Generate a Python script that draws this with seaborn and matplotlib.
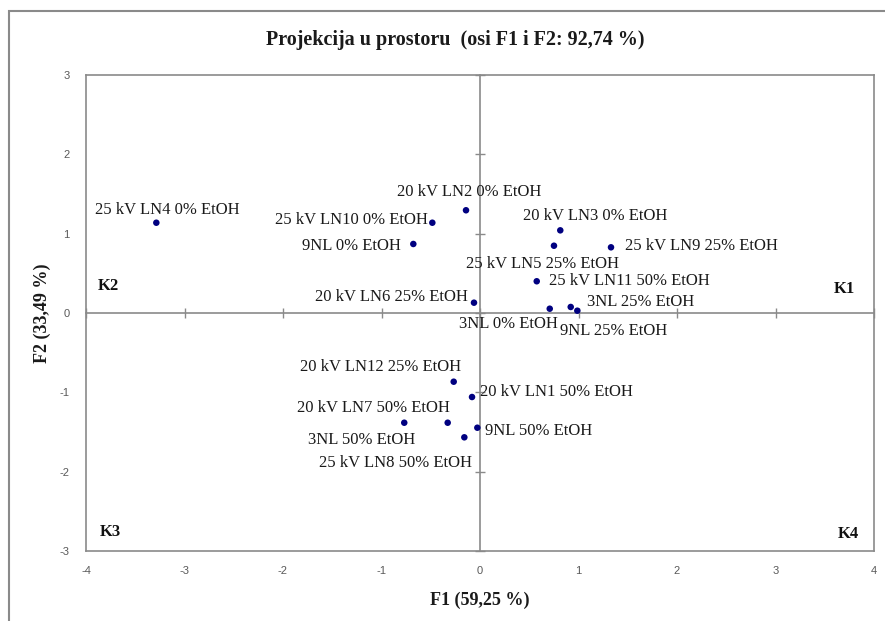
import matplotlib
matplotlib.use("Agg")
import matplotlib.pyplot as plt
import seaborn as sns
import pandas as pd
from matplotlib.patches import Rectangle

labels = [
    "25 kV LN4 0% EtOH", "25 kV LN10 0% EtOH", "20 kV LN2 0% EtOH", "9NL 0% EtOH",
    "20 kV LN6 25% EtOH", "20 kV LN3 0% EtOH", "25 kV LN5 25% EtOH", "25 kV LN9 25% EtOH",
    "25 kV LN11 50% EtOH", "3NL 0% EtOH", "3NL 25% EtOH", "9NL 25% EtOH",
    "20 kV LN12 25% EtOH", "20 kV LN1 50% EtOH", "3NL 50% EtOH", "20 kV LN7 50% EtOH",
    "9NL 50% EtOH", "25 kV LN8 50% EtOH",
]
f1 = [-3.286, -0.484, -0.142, -0.677, -0.061, 0.815, 0.751, 1.330,
      0.576, 0.708, 0.921, 0.988, -0.267, -0.081, -0.769, -0.328, -0.027, -0.159]
f2 = [1.138, 1.138, 1.295, 0.870, 0.130, 1.042, 0.848, 0.828,
      0.400, 0.054, 0.076, 0.029, -0.866, -1.059, -1.383, -1.383, -1.446, -1.567]

title = "Projekcija u prostoru  (osi F1 i F2: 92,74 %)"
xlabel = "F1 (59,25 %)"
ylabel = "F2 (33,49 %)"
ticks_x = [-4, -3, -2, -1, 0, 1, 2, 3, 4]
ticks_y = [-3, -2, -1, 0, 1, 2, 3]
quadrants = ["K1", "K2", "K3", "K4"]

# label placement (pixel offsets from point, alignment)
label_pos = [
    (11, 13, "center"), (-4, 3, "right"), (3, 18, "center"), (-12, -2, "right"),
    (-6, 6, "right"), (35, 14, "center"), (-11, -18, "center"), (14, 1, "left"),
    (12, 0, "left"), (-41, -15, "center"), (16, 5, "left"), (36, -20, "center"),
    (-73, 15, "center"), (8, 5, "left"), (-43, -17, "center"), (-74, 15, "center"),
    (8, -3, "left"), (-69, -26, "center"),
]
quad_pos = [(3.70, 0.30), (-3.77, 0.34), (-3.75, -2.76), (3.74, -2.79)]

sns.set_theme(style="white")
plt.rcParams["font.family"] = ["Liberation Serif", "DejaVu Serif"]

df = pd.DataFrame({"F1": f1, "F2": f2, "label": labels})

W, H = 885, 621
fig = plt.figure(figsize=(W / 100, H / 100), dpi=100)
pos = [86 / W, 1 - 551 / H, (874 - 86) / W, (551 - 75) / H]

frame_color = "#8a8a8a"
tick_color = "#595959"

# frame axes with tick labels on the box
axf = fig.add_axes(pos)
axf.set_xlim(-4, 4)
axf.set_ylim(-3, 3)
axf.set_xticks(ticks_x)
axf.set_yticks(ticks_y)
axf.set_xticklabels([str(t) for t in ticks_x])
axf.set_yticklabels([str(t) for t in ticks_y])
axf.tick_params(length=0, labelsize=8, labelcolor=tick_color)
axf.tick_params(axis="y", pad=12)
axf.tick_params(axis="x", pad=11)
for lab in axf.get_xticklabels() + axf.get_yticklabels():
    lab.set_family("Liberation Sans")
for s in axf.spines.values():
    s.set_color(frame_color)
    s.set_linewidth(1.2)
axf.set_xlabel(xlabel, fontsize=13, fontweight="bold", labelpad=11, color="#1a1a1a")
axf.set_ylabel(ylabel, fontsize=13, fontweight="bold", labelpad=6, color="#1a1a1a")
axf.set_facecolor("white")

# main axes with center cross
ax = fig.add_axes(pos, sharex=axf, sharey=axf)
ax.set_facecolor("none")
ax.spines["left"].set_position(("data", 0))
ax.spines["bottom"].set_position(("data", 0))
ax.spines["top"].set_visible(False)
ax.spines["right"].set_visible(False)
for k in ("left", "bottom"):
    ax.spines[k].set_color(frame_color)
    ax.spines[k].set_linewidth(1.2)
ax.tick_params(direction="inout", length=6.5, width=1.0, color=frame_color,
               labelleft=False, labelbottom=False, left=True, bottom=True)

sns.scatterplot(data=df, x="F1", y="F2", ax=ax, color="#000080", s=22,
                edgecolor="none", legend=False, zorder=3)
ax.set_xlabel("")
ax.set_ylabel("")
ax.set_xlim(-4, 4)
ax.set_ylim(-3, 3)

for (x, y, t), (dx, dy, ha) in zip(zip(f1, f2, labels), label_pos):
    ax.annotate(t, xy=(x, y), xytext=(dx, dy), textcoords="offset pixels",
                ha=ha, va="center", fontsize=12, color="#1a1a1a")

for q, (qx, qy) in zip(quadrants, quad_pos):
    ax.text(qx, qy, q, ha="center", va="center", fontsize=12,
            fontweight="bold", color="#111111")

fig.text(455 / W, 1 - 40 / H, title, ha="center", va="center",
         fontsize=14.5, fontweight="bold", color="#1a1a1a")

fig.add_artist(Rectangle((9 / W, -0.5), 2, 0.5 + 1 - 11 / H,
                         transform=fig.transFigure, fill=False,
                         edgecolor=frame_color, linewidth=1.5))

fig.savefig("out.png", dpi=100)
